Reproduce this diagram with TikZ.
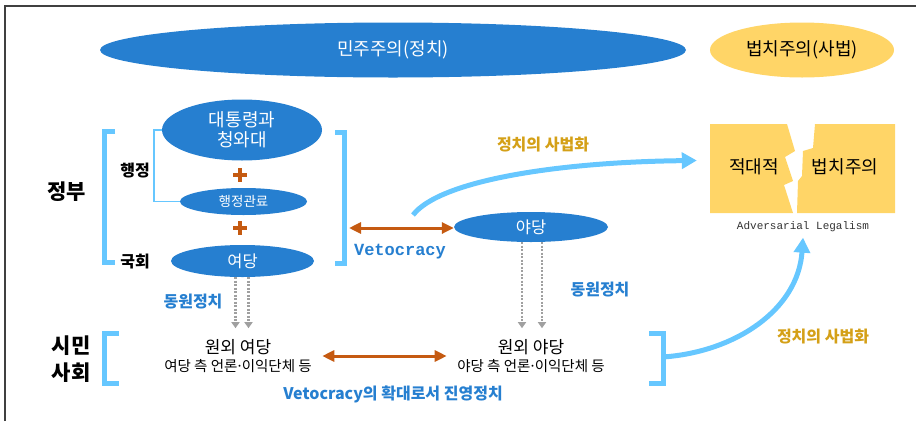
\documentclass[tikz,border=0pt]{standalone}
\usepackage{fontspec}
\setmainfont{Noto Sans CJK KR}
\newfontfamily\monofont{Liberation Mono}
\usetikzlibrary{positioning,arrows.meta,shapes.geometric}
\definecolor{partyblue}{RGB}{38,127,208}
\definecolor{brkblue}{RGB}{102,199,255}
\definecolor{vetoorange}{RGB}{197,90,17}
\definecolor{goldtxt}{RGB}{212,160,23}
\definecolor{lawyellow}{RGB}{255,213,103}
\definecolor{dotgray}{RGB}{160,160,160}
\newcommand{\mdot}{\hbox to 0.3em{\hss·\hss}}

\begin{document}
\begin{tikzpicture}[
      x=1pt, y=-1pt,
      >=Stealth,
      blob/.style={ellipse, fill=partyblue, text=white, inner sep=0pt, align=center},
      lawblob/.style={ellipse, fill=lawyellow, inner sep=0pt},
      brk/.style={draw=brkblue, line width=5pt},
      thinline/.style={draw=brkblue, line width=1.6pt},
      plus/.style={minimum size=14pt, inner sep=0pt, path picture={
          \fill[vetoorange] ([xshift=-2pt]path picture bounding box.north) rectangle ([xshift=2pt]path picture bounding box.south);
          \fill[vetoorange] ([yshift=-2pt]path picture bounding box.west) rectangle ([yshift=2pt]path picture bounding box.east);}},
      side/.style={font=\bfseries\fontsize{16}{18}\selectfont},
      big/.style={font=\bfseries\fontsize{21}{27}\selectfont, align=center},
      mobtxt/.style={font=\bfseries\fontsize{16}{18}\selectfont, text=partyblue},
      judtxt/.style={font=\bfseries\fontsize{16}{18}\selectfont, text=goldtxt},
      civ/.style={align=center, font=\fontsize{17}{18}\selectfont},
      veto/.style={draw=vetoorange, line width=3pt, {Triangle[width=11pt,length=12pt]}-{Triangle[width=11pt,length=12pt]}},
      mob/.style={draw=dotgray, line width=2.2pt, dash pattern=on 2pt off 1.5pt, -{Triangle[width=8pt,length=6pt]}},
      jud/.style={draw=brkblue, line width=5pt, -{Triangle[width=16pt,length=15pt]}}
  ]
    \useasboundingbox (0,0) rectangle (916,421);
    \draw[line width=1.5pt, black!75] (5,421) -- (5,6) -- (916,6);

    % top row
    \node[blob, minimum width=586pt, minimum height=55pt, font=\fontsize{18}{20}\selectfont] (minju) at (393,50) {민주주의(정치)};
    \node[lawblob, minimum width=184pt, minimum height=55pt, font=\fontsize{18}{20}\selectfont] (beopchi) at (802,50) {법치주의(사법)};

    % government
    \node[blob, minimum width=160pt, minimum height=61pt, font=\fontsize{18}{20}\selectfont] (pres) at (242,130) {대통령과\\청와대};
    \node[plus] (plus1) at (240,175) {};
    \node[blob, minimum width=127pt, minimum height=27pt, font=\fontsize{13.5}{15}\selectfont] (bureau) at (243.5,201.5) {행정관료};
    \node[plus] (plus2) at (240,228) {};
    \node[blob, minimum width=143pt, minimum height=32pt, font=\fontsize{16.5}{18}\selectfont] (ruling) at (242.5,261) {여당};
    \draw[thinline] (pres.west) -- ++(-8,0) |- (bureau.west);

    \node[side] (admin) at (135,171) {행정};
    \node[side] (assembly) at (135,262) {국회};
    \node[big] (gov) at (67,192) {정부};
    \draw[brk] (115,131.5) -- (104.5,131.5) -- (104.5,262.5) -- (115,262.5);
    \draw[brk] (335,132) -- (344,132) -- (344,263) -- (335,263);

    % opposition
    \node[blob, minimum width=154pt, minimum height=30pt, font=\fontsize{16.5}{18}\selectfont] (opp) at (531,227) {야당};
    \coordinate (govR) at (349,228);
    \draw[veto] (govR) -- (govR -| opp.west);
    \node[font=\monofont\bfseries\fontsize{17}{19}\selectfont, text=partyblue] (vetolbl) at (400,252) {Vetocracy};

    % adversarial legalism
    \fill[lawyellow] (710,124) -- (787,124) -- (795,151) -- (785,157) -- (793,181) -- (784,185) -- (793,213) -- (710,213) -- cycle;
    \fill[lawyellow] (815,124) -- (895,124) -- (895,213) -- (797,213) -- (798,181) -- (802,176) -- (803,151) -- (813,148) -- cycle;
    \node[minimum width=185pt, minimum height=89pt] (advbox) at (802.5,168.5) {};
    \node[font=\fontsize{18}{20}\selectfont] (hostile) at (754,167) {적대적};
    \node[font=\fontsize{18}{20}\selectfont] (rule) at (845,167) {법치주의};
    \node[font=\monofont\fontsize{11}{12}\selectfont, text=black!80] (advlbl) at (803,227) {Adversarial Legalism};

    \node[judtxt] (jud1) at (543,145) {정치의 사법화};
    \coordinate (jstart) at (413,215);
    \draw[jud] (jstart) .. controls (440,180) and (560,162) .. ([xshift=-13pt,yshift=8pt]advbox.west);

    % civil society
    \node[mobtxt] (mob1) at (193,302) {동원정치};
    \node[mobtxt] (mob2) at (600,290) {동원정치};
    \draw[mob] ([xshift=-7pt]ruling.south) -- ++(0,51);
    \draw[mob] ([xshift=6pt]ruling.south) -- ++(0,51);
    \draw[mob] ([xshift=-9pt]opp.south) -- ++(0,86);
    \draw[mob] ([xshift=11pt]opp.south) -- ++(0,86);

    \node[big] (civil) at (71,359.5) {시민\\사회};
    \draw[brk] (119,333) -- (104.5,333) -- (104.5,383) -- (119,383);
    \draw[brk] (649,333) -- (663,333) -- (663,383) -- (649,383);

    \node[civ] (civruling) at (238,356) {원외 여당\\{\fontsize{14.5}{16}\selectfont 여당 측 언론\mdot 이익단체 등}};
    \node[civ] (civopp) at (531,356) {원외 야당\\{\fontsize{14.5}{16}\selectfont 야당 측 언론\mdot 이익단체 등}};
    \draw[veto, shorten <=7pt, shorten >=7pt] (civruling.east) -- (civopp.west);
    \node[mobtxt] (vetoext) at (393,394) {Vetocracy의 확대로서 진영정치};

    \node[judtxt] (jud2) at (823,337) {정치의 사법화};
    \coordinate (civR) at (663,357);
    \draw[jud] (civR) .. controls (735,352) and (798,310) .. ([yshift=-2pt]advlbl.south);
  \end{tikzpicture}
\end{document}
